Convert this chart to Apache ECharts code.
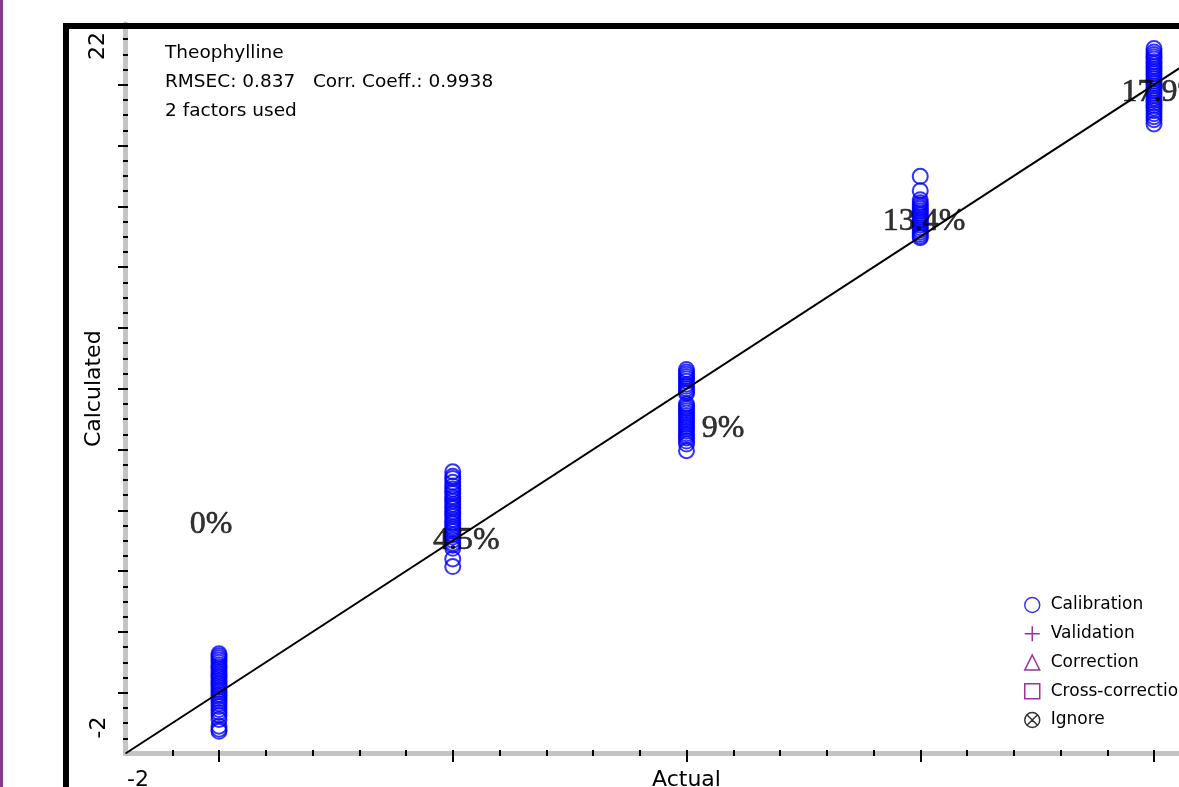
<!DOCTYPE html>
<html>
<head>
<meta charset="utf-8">
<script src="https://cdn.jsdelivr.net/npm/echarts@6/dist/echarts.min.js"></script>
<style>
  html, body { margin: 0; padding: 0; background: #ffffff; }
  #chart { width: 1179px; height: 787px; }
</style>
</head>
<body>
<div id="chart"></div>
<script>
// Actual concentration levels of the calibration samples
const actualLevels = [0, 5, 10, 15, 20];

// Calculated (predicted) values for each actual level
const calcAt0 = [1.28, 1.22, 1.15, 1.08, 1.00, 0.92, 0.85, 0.78, 0.70, 0.62, 0.55, 0.48, 0.40, 0.32, 0.25, 0.18, 0.10, 0.03, -0.05, -0.12, -0.20, -0.28, -0.36, -0.45, -0.55, -0.65, -0.75, -0.88, -1.10, -1.20, -1.27];
const calcAt5 = [7.27, 7.12, 7.05, 6.92, 6.80, 6.70, 6.62, 6.55, 6.45, 6.38, 6.30, 6.20, 6.12, 6.05, 5.95, 5.88, 5.80, 5.70, 5.62, 5.55, 5.45, 5.38, 5.30, 5.20, 5.12, 5.02, 4.92, 4.85, 4.75, 4.40, 4.15];
const calcAt10 = [10.63, 10.55, 10.48, 10.40, 10.33, 10.25, 10.15, 10.08, 10.00, 9.92, 9.85, 9.50, 9.42, 9.35, 9.28, 9.20, 9.12, 9.05, 8.98, 8.90, 8.82, 8.75, 8.68, 8.60, 8.52, 8.45, 8.38, 8.28, 8.18, 7.96];
const calcAt15 = [16.99, 16.51, 16.22, 16.12, 16.05, 15.98, 15.92, 15.85, 15.78, 15.72, 15.65, 15.58, 15.52, 15.45, 15.38, 15.30, 15.22, 15.15, 15.08, 15.02, 14.97];
const calcAt20 = [21.19, 21.08, 21.00, 20.92, 20.85, 20.76, 20.68, 20.60, 20.52, 20.44, 20.36, 20.28, 20.20, 20.12, 20.04, 19.96, 19.88, 19.80, 19.72, 19.64, 19.56, 19.48, 19.40, 19.32, 19.24, 19.15, 19.05, 18.95, 18.85, 18.71];

// Sample annotations and where they sit (data units)
const sampleLabels = ['0%', '4.5%', '9%', '13.4%', '17.9%'];
const sampleLabelX = [-0.17, 5.29, 10.78, 15.08, 20.19];
const sampleLabelY = [5.53, 5.00, 8.69, 15.49, 19.73];

// Ideal fit line (calculated = actual)
const fitLine = [[-2, -2], [22, 22]];

// Axis range and ticks
const axisRange = [-2, 22];
const xMajorTicks = [0, 5, 10, 15, 20];
const xMinorTicks = [-1, 1, 2, 3, 4, 6, 7, 8, 9, 11, 12, 13, 14, 16, 17, 18, 19, 21];
const yMajorTicks = [0, 2, 4, 6, 8, 10, 12, 14, 16, 18, 20];
const xEndLabels = ['-2'];
const yEndLabels = ['-2', '22'];

// Model summary text
const infoLines = ['Theophylline', 'RMSEC: 0.837   Corr. Coeff.: 0.9938', '2 factors used'];

const legendNames = ['Calibration', 'Validation', 'Correction', 'Cross-correction', 'Ignore'];

const FONT = 'DejaVu Sans';
const BLUE = '#0000ff';
const PURPLE = '#800080';
const GREY = '#c4c4c4';

const calcGroups = [calcAt0, calcAt5, calcAt10, calcAt15, calcAt20];
const calibrationData = [];
calcGroups.forEach((vals, i) => {
  vals.forEach(v => calibrationData.push([actualLevels[i], v]));
});
const annotationData = sampleLabels.map((t, i) => ({ name: t, value: [sampleLabelX[i], sampleLabelY[i]] }));

const chart = echarts.init(document.getElementById('chart'), null, { renderer: 'canvas' });

const hollow = (c, w) => ({ color: 'rgba(0,0,0,0)', borderColor: c, borderWidth: w || 1.5 });

// The plot area runs past the right edge of the page; only its left part is shown.
const option = {
  animation: false,
  backgroundColor: '#ffffff',
  title: {
    text: infoLines.join('\n'),
    left: 160,
    top: 34,
    textStyle: { fontFamily: FONT, fontSize: 18.5, fontWeight: 'normal', lineHeight: 29, color: '#000' }
  },
  legend: {
    orient: 'vertical',
    left: 1019,
    top: 591.5,
    itemWidth: 15,
    itemHeight: 15,
    itemGap: 11.75,
    textStyle: { fontFamily: FONT, fontSize: 17, color: '#000', padding: [0, 0, 0, 6] },
    data: [
      { name: legendNames[0], icon: 'circle', itemStyle: hollow(BLUE) },
      { name: legendNames[1], icon: 'path://M8,0L8,16M0,8L16,8', itemStyle: hollow(PURPLE) },
      { name: legendNames[2], icon: 'triangle', itemStyle: hollow(PURPLE) },
      { name: legendNames[3], icon: 'rect', itemStyle: hollow(PURPLE) },
      { name: legendNames[4], icon: 'path://M0,8A8,8,0,1,1,16,8A8,8,0,1,1,0,8ZM2.3,2.3L13.7,13.7M13.7,2.3L2.3,13.7', itemStyle: hollow('#000') }
    ]
  },
  grid: { left: 125.5, top: 24, width: 1122, height: 729.5, containLabel: false, outerBoundsMode: 'none' },
  xAxis: [
    {
      // grey axis strip and axis title
      type: 'value', min: axisRange[0], max: axisRange[1], position: 'bottom',
      axisLine: { show: true, onZero: false, lineStyle: { color: GREY, width: 5 } },
      axisTick: { show: false }, axisLabel: { show: false }, splitLine: { show: false },
      name: 'Actual', nameLocation: 'middle', nameGap: 16,
      nameTextStyle: { fontFamily: FONT, fontSize: 22, color: '#000', verticalAlign: 'top' }
    },
    {
      // major ticks
      type: 'value', min: axisRange[0], max: axisRange[1], position: 'bottom', offset: -3.5,
      axisLine: { show: false, onZero: false },
      axisTick: { show: true, length: 12, customValues: xMajorTicks, lineStyle: { color: '#000', width: 2 } },
      axisLabel: { show: false }, splitLine: { show: false }
    },
    {
      // minor ticks
      type: 'value', min: axisRange[0], max: axisRange[1], position: 'bottom', offset: -3.5,
      axisLine: { show: false, onZero: false },
      axisTick: { show: true, length: 6, customValues: xMinorTicks, lineStyle: { color: '#000', width: 2 } },
      axisLabel: { show: false }, splitLine: { show: false }
    }
  ],
  yAxis: [
    {
      type: 'value', min: axisRange[0], max: axisRange[1], position: 'left',
      axisLine: { show: true, onZero: false, lineStyle: { color: GREY, width: 5 } },
      axisTick: { show: false }, axisLabel: { show: false }, splitLine: { show: false },
      name: 'Calculated', nameLocation: 'middle', nameGap: 20,
      nameTextStyle: { fontFamily: FONT, fontSize: 22, color: '#000' }
    },
    {
      type: 'value', min: axisRange[0], max: axisRange[1], interval: 2, position: 'left', offset: -2.5,
      axisLine: { show: false, onZero: false },
      axisTick: { show: true, length: 10, customValues: yMajorTicks, lineStyle: { color: '#000', width: 2 } },
      minorTick: { show: true, splitNumber: 4, length: 5, lineStyle: { color: '#000', width: 2 } },
      axisLabel: { show: false }, splitLine: { show: false }, minorSplitLine: { show: false }
    }
  ],
  series: [
    {
      name: legendNames[0], type: 'scatter', xAxisIndex: 0, yAxisIndex: 0,
      symbol: 'circle', symbolSize: 15, data: calibrationData,
      itemStyle: hollow(BLUE, 2), z: 2
    },
    { name: legendNames[1], type: 'scatter', data: [], itemStyle: hollow(PURPLE) },
    { name: legendNames[2], type: 'scatter', data: [], itemStyle: hollow(PURPLE) },
    { name: legendNames[3], type: 'scatter', data: [], itemStyle: hollow(PURPLE) },
    { name: legendNames[4], type: 'scatter', data: [], itemStyle: hollow('#000') },
    {
      name: 'fit', type: 'line', data: fitLine, symbol: 'none', silent: true, z: 3,
      lineStyle: { color: '#000', width: 2 }
    },
    {
      name: 'samples', type: 'scatter', data: annotationData, symbolSize: 1, silent: true, z: 4,
      itemStyle: { color: 'rgba(0,0,0,0)' },
      label: {
        show: true, position: 'inside', formatter: p => p.name,
        fontFamily: 'Liberation Serif', fontSize: 32, color: '#000000',
        textBorderColor: '#000000', textBorderWidth: 0.6
      }
    }
  ]
};

chart.setOption(option);

// End-of-axis labels, placed just inside the axis ends
const xMinPx = chart.convertToPixel({ xAxisIndex: 0 }, axisRange[0]);
const yMinPx = chart.convertToPixel({ yAxisIndex: 0 }, axisRange[0]);
const yMaxPx = chart.convertToPixel({ yAxisIndex: 0 }, axisRange[1]);
const tickFont = { fontFamily: FONT, fontSize: 22, fill: '#000', align: 'center', verticalAlign: 'middle' };

chart.setOption({
  graphic: [
    { type: 'rect', shape: { x: 0, y: 0, width: 3, height: 787 }, style: { fill: '#8a3a8a' }, z: 200 },
    { type: 'rect', shape: { x: 66, y: 26, width: 1400, height: 1400 }, style: { fill: 'none', stroke: '#000', lineWidth: 6 }, z: 200 },
    { type: 'text', x: xMinPx + 12.5, y: yMinPx + 27, style: Object.assign({ text: xEndLabels[0] }, tickFont), z: 200 },
    { type: 'text', x: xMinPx - 26.5, y: yMinPx - 26, rotation: Math.PI / 2, style: Object.assign({ text: yEndLabels[0] }, tickFont), z: 200 },
    { type: 'text', x: xMinPx - 27, y: yMaxPx + 22, rotation: Math.PI / 2, style: Object.assign({ text: yEndLabels[1] }, tickFont), z: 200 }
  ]
});
</script>
</body>
</html>
